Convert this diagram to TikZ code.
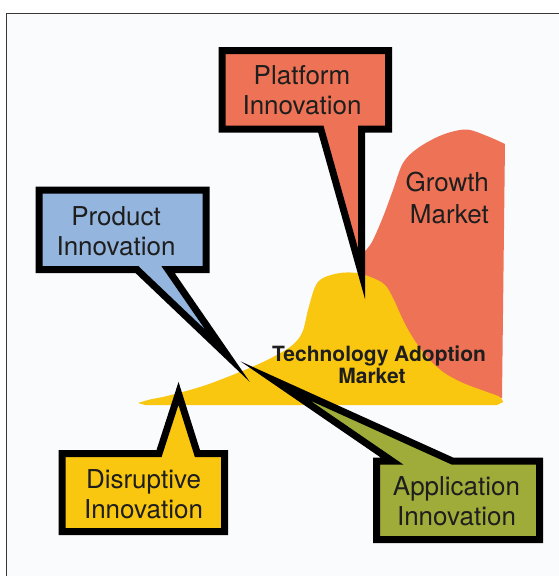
\documentclass[tikz,border=0pt]{standalone}
\usepackage{fontspec}
\setmainfont{TeX Gyre Heros}
\definecolor{growth}{RGB}{238,115,86}
\definecolor{hill}{RGB}{250,199,16}
\definecolor{prodblue}{RGB}{148,181,221}
\definecolor{appgreen}{RGB}{160,172,58}
\definecolor{ink}{RGB}{30,30,30}
\definecolor{paper}{RGB}{250,251,253}
\definecolor{framegray}{RGB}{60,55,55}

\begin{document}
\begin{tikzpicture}[x=1pt,y=-1pt,
  callout/.style={draw=black, line width=7pt, line join=miter, miter limit=40},
  boxtext/.style={text=ink, align=center, inner sep=0pt,
    font=\fontsize{26}{30}\selectfont},
  growthtext/.style={text=ink, align=right, inner sep=0pt,
    font=\fontsize{26}{31.5}\selectfont},
  techtext/.style={text=ink, inner sep=0pt,
    font=\fontsize{21}{23}\selectfont\bfseries}]
\useasboundingbox (0,0) rectangle (559,576);
\fill[white] (0,0) rectangle (559,576);

% page frame
\fill[paper] (6.7,13.3) rectangle (566,583);
\draw[framegray, line width=1.3pt] (6.7,583) -- (6.7,13.3) -- (566,13.3);

% growth market area
\fill[growth] (362,300) -- plot[smooth, tension=0.55] coordinates {
  (362,254) (367,249) (373,240) (383,217) (393,190) (403,163)
  (418,148) (442,135) (466,129.5) (487,136) (505,144)}
  -- (502,398) -- (380,398) -- cycle;

% technology adoption hill
\fill[hill] plot[smooth, tension=0.55] coordinates {
  (138,403) (150,399.5) (167,396) (200,387) (230,376) (263,362)
  (290,347) (302,333) (308,310) (315,287) (323,278) (340,273)
  (357,273) (373,278) (385,285) (393,298) (403,320) (413,338)
  (427,357) (443,372) (463,383) (487,392) (500,397) (503,402)}
  -- (497,405) -- (145,405) -- cycle;

\node[techtext, anchor=base] (tech) at (379,361) {Technology Adoption};
\node[techtext, anchor=base] (techmarket) at (372,383) {Market};
\node[growthtext, anchor=east] (growthlabel) at (489,198) {Growth\\Market};

% callouts
\draw[callout, fill=appgreen] (376.5,461) -- (392,461) -- (275.2,380.9)
  -- (452.3,461) -- (539.5,461) -- (539.5,539.5) -- (376.5,539.5) -- cycle;
\draw[callout, fill=prodblue] (39,190) -- (206,190) -- (206,269.5)
  -- (168,269.5) -- (227.6,355.9) -- (136.85,269.5) -- (39,269.5) -- cycle;
\draw[callout, fill=hill] (62,453.5) -- (159.05,453.5) -- (178.5,393.4)
  -- (197.43,453.5) -- (224.5,453.5) -- (224.5,531.5) -- (62,531.5) -- cycle;
\draw[callout, fill=growth] (222,50.5) -- (388.5,50.5) -- (388.5,129)
  -- (361.5,129) -- (361.5,273.6) -- (320.8,129) -- (222,129) -- cycle;

\node[boxtext] (platform) at (302,90.5) {Platform\\Innovation};
\node[boxtext] (product) at (116,231) {Product\\Innovation};
\node[boxtext] (disruptive) at (143.5,494) {Disruptive\\Innovation};
\node[boxtext] (application) at (456.5,501) {Application\\Innovation};
\end{tikzpicture}
\end{document}
